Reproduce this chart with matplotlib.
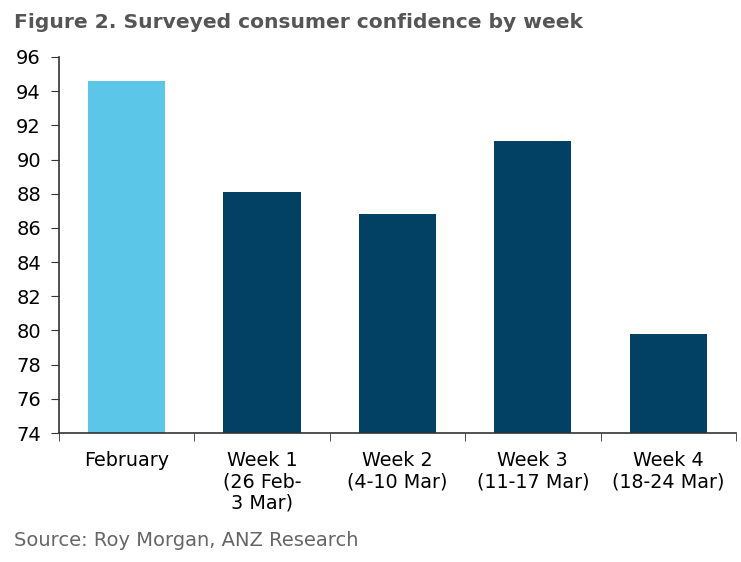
import numpy as np
import matplotlib.pyplot as plt

# Surveyed consumer confidence by week
categories = ['February', 'Week 1\n(26 Feb-\n3 Mar)', 'Week 2\n(4-10 Mar)',
              'Week 3\n(11-17 Mar)', 'Week 4\n(18-24 Mar)']
values = [94.6, 88.1, 86.8, 91.1, 79.8]
colors = ['#5bc6e8', '#024064', '#024064', '#024064', '#024064']
y_ticks = list(range(74, 97, 2))

fig = plt.figure(figsize=(7.41, 5.62), dpi=100)
ax = fig.add_axes([0.0796, 0.2295, 0.9136, 0.6691])

x = np.arange(len(categories))
ax.bar(x, values, width=0.57, color=colors, bottom=0)

ax.set_ylim(74, 96)
ax.set_xlim(-0.5, len(categories) - 0.5)
ax.set_yticks(y_ticks)
ax.set_xticks(x)
ax.set_xticklabels(categories, fontsize=13.8, linespacing=1.15)
ax.set_xticks(np.arange(-0.5, len(categories)), minor=True)
ax.tick_params(axis='x', which='major', length=0, pad=13)
ax.tick_params(axis='x', which='minor', length=6, direction='out', color='#333333')
ax.tick_params(axis='y', labelsize=14, length=6, direction='out', color='#333333', pad=7)

for side in ['top', 'right']:
    ax.spines[side].set_visible(False)
for side in ['left', 'bottom']:
    ax.spines[side].set_color('#333333')
    ax.spines[side].set_linewidth(1.2)

fig.text(0.019, 0.960, 'Figure 2. Surveyed consumer confidence by week',
         fontsize=14.6, fontweight='bold', color='#555555', va='center')
fig.text(0.019, 0.039, 'Source: Roy Morgan, ANZ Research',
         fontsize=14, color='#666666', va='center')

fig.savefig('out.png', dpi=100)
